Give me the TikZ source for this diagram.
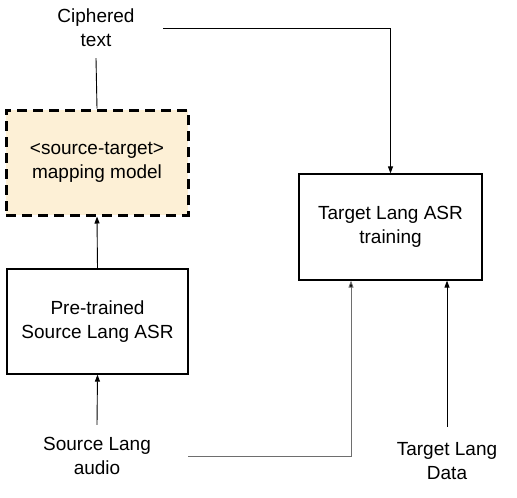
\documentclass[tikz,border=0pt]{standalone}
\usepackage{fontspec}
\setmainfont{Liberation Sans}
\usetikzlibrary{arrows.meta}
\definecolor{peach}{HTML}{FDF0D6}
\definecolor{lgray}{HTML}{6E6E6E}
\begin{document}
\begin{tikzpicture}[x=1pt,y=-1pt,
  font=\fontsize{19}{24}\selectfont,
  every node/.style={inner sep=0pt,align=center},
  box/.style={draw,line width=1.2pt,minimum width=182pt,minimum height=105pt},
  dbox/.style={box,fill=peach,line width=3pt,dash pattern=on 10pt off 6pt},
  lbl/.style={minimum height=60pt},
  conn/.style={line width=0.9pt},
  arr/.style={conn,-{Triangle[length=7pt,width=5pt]}}]
\useasboundingbox (0,0) rectangle (517,498);
\node[lbl,minimum width=134pt] (cipher) at (96,28) {Ciphered\\text};
\node[dbox] (map) at (97,162.5) {<source-target>\\mapping model};
\node[box,minimum width=181pt] (pre) at (97.5,321.5) {Pre-trained\\Source Lang ASR};
\node[box,minimum width=183pt,minimum height=106pt] (tgt) at (390.5,227) {Target Lang ASR\\training};
\node[lbl,minimum width=182pt,minimum height=62pt] (src) at (97,456) {Source Lang\\audio};
\node[lbl,minimum height=68pt] (data) at (447,461) {Target Lang\\Data};
\draw[conn] (cipher.south) -- (map.north);
\draw[arr] (pre.north) -- (map.south);
\draw[arr] (src.north) -- (pre.south);
\draw[arr] (cipher.east) -| (tgt.north);
\draw[arr,draw=lgray,-{Triangle[length=7pt,width=5pt,fill=black]}] (src.east) -| ([xshift=-39.5pt]tgt.south);
\draw[arr] (data.north) -- (data.north |- tgt.south);
\end{tikzpicture}
\end{document}
